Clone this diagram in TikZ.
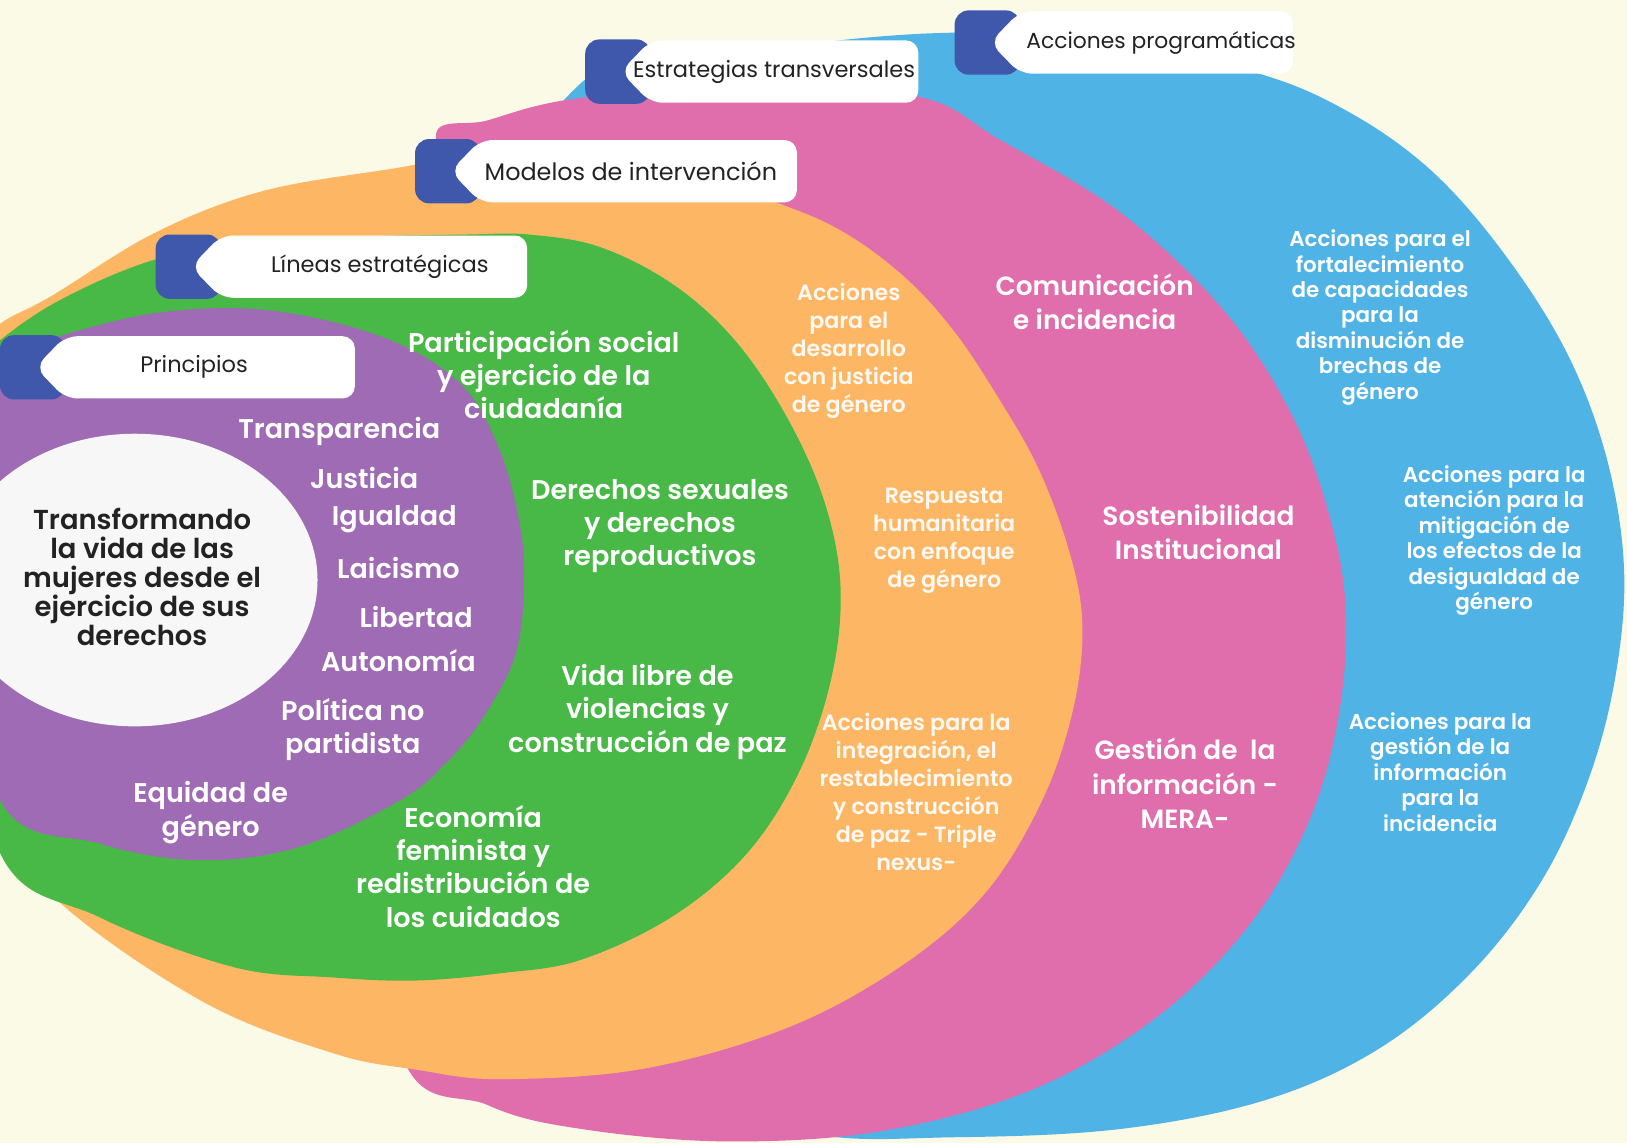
\documentclass[tikz,border=0pt]{standalone}
\usepackage{fontspec}
\setmainfont{Poppins}[BoldFont={Poppins SemiBold}]
\usepackage{tikz}
\usetikzlibrary{calc}
\usepackage{xcolor}

\definecolor{creambg}{HTML}{FBFAE6}
\definecolor{ringblue}{HTML}{50B3E5}
\definecolor{ringpink}{HTML}{E06DAC}
\definecolor{ringorange}{HTML}{FDB764}
\definecolor{ringgreen}{HTML}{48B847}
\definecolor{ringpurple}{HTML}{9E6BB4}
\definecolor{tabblue}{HTML}{3F58AC}
\definecolor{coreWhite}{HTML}{F7F7F7}
\definecolor{darktext}{HTML}{222222}

\begin{document}
\begin{tikzpicture}[x=0.02075cm, y=-0.02075cm,
    ringtext/.style={text=white, align=center, inner sep=0pt,
        font=\bfseries\fontsize{15.4}{19}\selectfont},
    pinktext/.style={ringtext, font=\bfseries\fontsize{15}{19.5}\selectfont},
    smalltext/.style={ringtext, text=white!92!ringorange,
        font=\bfseries\fontsize{12.6}{16}\selectfont},
    tinytext/.style={ringtext, font=\bfseries\fontsize{12.2}{14.5}\selectfont},
    coretext/.style={text=darktext, align=center, inner sep=0pt,
        font=\bfseries\fontsize{15.6}{16.5}\selectfont},
    tablabel/.style={text=darktext, inner sep=0pt}]

\useasboundingbox (0,0) rectangle (1568,1102);
\clip (0,0) rectangle (1568,1102);
\fill[creambg] (0,0) rectangle (1568,1102);

% Outer rings, back to front
\fill[ringblue] plot[smooth cycle, tension=0.6] coordinates {
    (560,80) (720,50) (900,32) (1060,38) (1210,70) (1300,108) (1380,165)
    (1450,245) (1510,340) (1548,440) (1565,545) (1558,645) (1533,745)
    (1488,845) (1420,935) (1330,1010) (1220,1060) (1080,1088) (920,1096)
    (780,1092) (650,1040) (500,700) (450,300)};
\fill[ringpink] plot[smooth cycle, tension=0.6] coordinates {
    (420,134) (470,116) (555,95) (720,82) (884,93) (964,135) (1080,205)
    (1180,300) (1245,400) (1282,500) (1297,590) (1290,690) (1262,790)
    (1205,890) (1115,980) (995,1050) (850,1090) (700,1100) (560,1088)
    (470,1065) (385,1010) (360,700) (480,250)};
\fill[ringorange] plot[smooth cycle, tension=0.6] coordinates {
    (0,312) (50,285) (148,225) (250,185) (369,164) (480,150) (640,160)
    (761,200) (820,228) (875,270) (920,320) (960,380) (1000,450)
    (1030,530) (1043,600) (1035,680) (1005,770) (950,860) (870,930)
    (760,990) (620,1030) (482,1040) (402,1031) (321,1015) (193,964)
    (48,861) (-30,750) (-40,500) (-25,340)};
\fill[ringgreen] plot[smooth cycle, tension=0.6] coordinates {
    (0,328) (60,288) (150,250) (250,232) (350,228) (450,226) (509,226)
    (578,238) (650,275) (710,330) (760,405) (795,485) (810,565)
    (802,650) (772,740) (722,820) (650,882) (560,925) (482,938)
    (400,945) (321,942) (225,932) (96,884) (0,822) (-40,600) (-30,360)};
\fill[ringpurple] plot[smooth cycle, tension=0.6] coordinates {
    (0,345) (37,330) (148,302) (258,299) (369,325) (443,369) (480,430)
    (500,500) (505,560) (497,630) (466,691) (430,735) (386,771)
    (289,816) (193,829) (96,813) (0,771) (-40,560)};
\fill[coreWhite] (130,559) ellipse [x radius=176, y radius=141];

% Tabs: flag, white label, text
\foreach \xl/\yt/\xr/\xt/\fs/\lbl/\nm in {
    920/10/1246/1119/12.4/{Acciones programáticas}/acc,
    564/38/885/746/12.8/{Estrategias transversales}/est,
    400/134/768/608/13.6/{Modelos de intervención}/mod,
    150/226/508/366/12.8/{Líneas estratégicas}/lin,
    0/323/342/187/12.8/{Principios}/pri} {
    \fill[tabblue, rounded corners=8] (\xl,\yt) rectangle ++(63,62);
    \fill[white, rounded corners=7] (\xl+34,\yt+31) -- (\xl+63,\yt+1)
        -- (\xr,\yt+1) -- (\xr,\yt+61) -- (\xl+63,\yt+61) -- cycle;
    \node[tablabel, font=\fontsize{\fs}{15}\selectfont] (tab\nm) at (\xt,\yt+31) {\lbl};
}

% Core
\node[coretext] (core) at (137,556) {Transformando\\la vida de las\\mujeres desde el\\ejercicio de sus\\derechos};

% Principios
\node[ringtext] (prTra) at (327,416) {Transparencia};
\node[ringtext] (prJus) at (351,461) {Justicia};
\node[ringtext] (prIgu) at (380,500) {Igualdad};
\node[ringtext] (prLai) at (384,547) {Laicismo};
\node[ringtext] (prLib) at (401,595) {Libertad};
\node[ringtext] (prAut) at (384,637) {Autonomía};
\node[ringtext] (prPol) at (340,703) {Política no\\partidista};
\node[ringtext] (prEqu) at (203,783) {Equidad de\\género};

% Lineas estrategicas
\node[ringtext] (liPar) at (524,361) {Participación social\\y ejercicio de la\\ciudadanía};
\node[ringtext] (liDer) at (636,507) {Derechos sexuales\\y derechos\\reproductivos};
\node[ringtext] (liVid) at (624,686) {Vida libre de\\violencias y\\construcción de paz};
\node[ringtext] (liEco) at (456,835) {Economía\\feminista y\\redistribución de\\los cuidados};

% Modelos de intervencion
\node[smalltext] (moDes) at (818,338) {Acciones\\para el\\desarrollo\\con justicia\\de género};
\node[smalltext] (moRes) at (910,521) {Respuesta\\humanitaria\\con enfoque\\de género};
\node[smalltext] (moInt) at (883,763) {Acciones para la\\integración, el\\restablecimiento\\y construcción\\de paz - Triple\\nexus-};

% Estrategias transversales
\node[pinktext] (esCom) at (1055,291) {Comunicación\\e incidencia};
\node[pinktext] (esSos) at (1155,513) {Sostenibilidad\\Institucional};
\node[pinktext] (esGes) at (1142,755) {Gestión de\ \ la\\información -\\MERA-};

% Acciones programaticas
\node[tinytext] (acFor) at (1330,306) {Acciones para el\\fortalecimiento\\de capacidades\\para la\\disminución de\\brechas de\\género};
\node[tinytext] (acAte) at (1440,521) {Acciones para la\\atención para la\\mitigación de\\los efectos de la\\desigualdad de\\género};
\node[tinytext] (acGes) at (1388,744) {Acciones para la\\gestión de la\\información\\para la\\incidencia};

\end{tikzpicture}
\end{document}
